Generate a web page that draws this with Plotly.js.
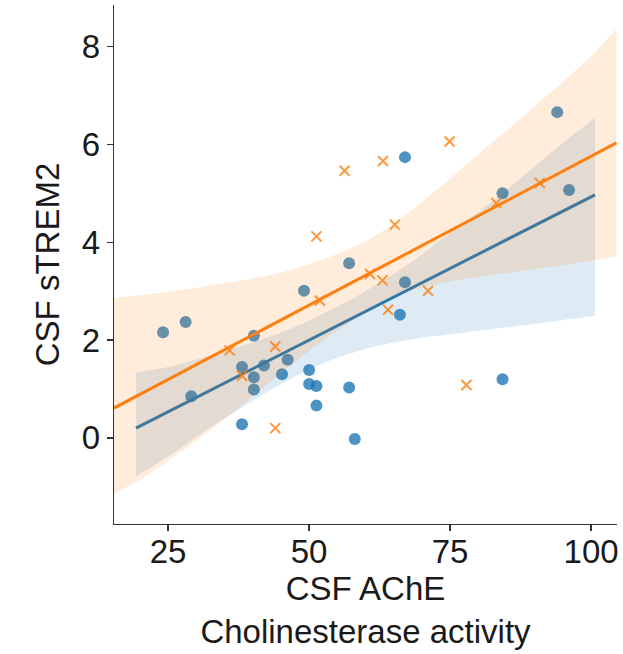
<!DOCTYPE html>
<html>
<head>
<meta charset="utf-8">
<script src="https://cdn.plot.ly/plotly-3.0.1.min.js"></script>
<style>html,body{margin:0;padding:0;background:#fff;}#chart{width:623px;height:654px;}</style>
</head>
<body>
<div id="chart"></div>
<script>
// Group 1 (blue circles)
const blueX = [94.0, 67.0, 84.3, 96.1, 57.1, 67.0, 49.1, 66.1, 28.1, 24.1, 40.2, 46.2, 42.0, 38.1, 50.0, 45.2, 40.2, 50.0, 51.3, 57.1, 84.3, 40.2, 29.1, 51.3, 38.1, 58.1];
const blueY = [6.66, 5.74, 5.00, 5.07, 3.57, 3.18, 3.01, 2.52, 2.37, 2.16, 2.09, 1.60, 1.48, 1.45, 1.39, 1.30, 1.24, 1.10, 1.06, 1.03, 1.20, 0.99, 0.85, 0.66, 0.28, -0.02];
// Group 2 (orange crosses)
const orangeX = [74.9, 63.1, 56.3, 90.9, 83.2, 65.2, 51.3, 60.8, 63.0, 71.1, 51.9, 64.0, 44.0, 35.9, 38.1, 77.9, 44.0];
const orangeY = [6.06, 5.66, 5.46, 5.21, 4.80, 4.36, 4.12, 3.35, 3.22, 3.01, 2.81, 2.62, 1.87, 1.79, 1.27, 1.08, 0.20];

// Regression lines (end points)
const blueLineX = [19.3, 100.7];
const blueLineY = [0.20, 4.97];
const orangeLineX = [15.4, 104.5];
const orangeLineY = [0.61, 6.03];

// Confidence bands
const blueBandX = [19.3, 25, 30, 35, 40, 45, 50, 55, 60, 65, 70, 75, 80, 85, 90, 95, 100.7];
const blueBandUpper = [1.34, 1.45, 1.60, 1.77, 1.95, 2.15, 2.40, 2.68, 3.00, 3.35, 3.75, 4.20, 4.62, 5.07, 5.55, 6.03, 6.54];
const blueBandLower = [-0.79, -0.38, 0.02, 0.40, 0.76, 1.10, 1.40, 1.64, 1.82, 1.95, 2.05, 2.12, 2.19, 2.26, 2.33, 2.41, 2.49];

const orangeBandX = [15.4, 20, 25, 30, 35, 40, 45, 50, 55, 60, 65, 70, 75, 80, 85, 90, 95, 100, 104.5];
const orangeBandUpper = [2.86, 2.92, 2.99, 3.07, 3.16, 3.26, 3.38, 3.55, 3.76, 4.02, 4.38, 4.82, 5.30, 5.80, 6.28, 6.78, 7.28, 7.80, 8.36];
const orangeBandLower = [-1.15, -0.85, -0.47, -0.06, 0.38, 0.85, 1.32, 1.78, 2.20, 2.57, 2.88, 3.08, 3.20, 3.29, 3.37, 3.45, 3.53, 3.62, 3.71];

const xTicks = [25, 50, 75, 100];
const yTicks = [0, 2, 4, 6, 8];

const BLUE = '#1f77b4';
const ORANGE = '#ff7f0e';

function bandTraces(xs, up, lo, color) {
  return [
    {x: xs, y: up, type: 'scatter', mode: 'lines',
     line: {width: 0, shape: 'spline', smoothing: 0.8}, hoverinfo: 'skip', showlegend: false},
    {x: xs, y: lo, type: 'scatter', mode: 'lines', fill: 'tonexty', fillcolor: color,
     line: {width: 0, shape: 'spline', smoothing: 0.8}, hoverinfo: 'skip', showlegend: false}
  ];
}

const traces = [
  {x: blueX, y: blueY, type: 'scatter', mode: 'markers',
   marker: {symbol: 'circle', size: 12, color: BLUE, opacity: 0.8, line: {width: 0}}, showlegend: false},
  ...bandTraces(blueBandX, blueBandUpper, blueBandLower, 'rgba(31,119,180,0.15)'),
  {x: blueLineX, y: blueLineY, type: 'scatter', mode: 'lines', line: {color: BLUE, width: 3}, showlegend: false},
  {x: orangeX, y: orangeY, type: 'scatter', mode: 'markers',
   marker: {symbol: 'x-thin', size: 10, color: ORANGE, opacity: 0.8, line: {width: 2, color: ORANGE}}, showlegend: false},
  ...bandTraces(orangeBandX, orangeBandUpper, orangeBandLower, 'rgba(255,127,14,0.15)'),
  {x: orangeLineX, y: orangeLineY, type: 'scatter', mode: 'lines', line: {color: ORANGE, width: 3}, showlegend: false}
];

const FONT = {family: 'Liberation Sans, Arial, sans-serif', size: 33, color: '#1a1a1a'};

const layout = {
  width: 623, height: 654,
  margin: {l: 114, r: 6, t: 5, b: 130},
  paper_bgcolor: '#ffffff', plot_bgcolor: '#ffffff',
  font: FONT,
  showlegend: false,
  xaxis: {
    range: [15.4, 104.6], tickvals: xTicks, ticktext: xTicks.map(String),
    showgrid: false, zeroline: false, showline: true, linecolor: '#333', linewidth: 1.3,
    ticks: 'outside', ticklen: 6, tickwidth: 1.3, tickcolor: '#333',
    tickfont: FONT, ticklabelstandoff: -8,
    title: {text: 'CSF AChE<br>Cholinesterase activity', font: FONT, standoff: 0}
  },
  yaxis: {
    range: [-1.76, 8.85], tickvals: yTicks, ticktext: yTicks.map(String),
    showgrid: false, zeroline: false, showline: true, linecolor: '#333', linewidth: 1.3,
    ticks: 'outside', ticklen: 6, tickwidth: 1.3, tickcolor: '#333',
    tickfont: FONT,
    title: {text: 'CSF sTREM2', font: FONT, standoff: 12}
  }
};

Plotly.newPlot('chart', traces, layout, {staticPlot: true, displayModeBar: false});
</script>
</body>
</html>
